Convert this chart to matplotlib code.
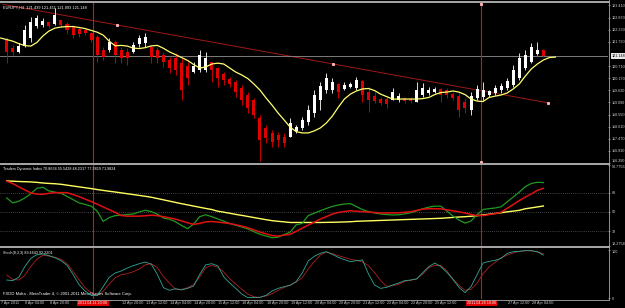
import matplotlib
matplotlib.use("Agg")
import matplotlib.pyplot as plt
from matplotlib.lines import Line2D
import numpy as np

plt.rcParams['font.family'] = ['Liberation Sans', 'DejaVu Sans']

# EURJPY H4 candles, bars 0..89 (7 Apr 2011 12:00 -> 28 Apr 2011 08:00)
OPEN = [121.87, 121.51, 121.33, 121.60, 121.96, 122.49, 122.54, 122.67, 122.58, 122.76,
        122.58, 122.45, 122.36, 122.31, 122.18, 122.00, 121.42, 121.42, 121.78, 121.42,
        121.33, 121.33, 121.69, 121.73, 121.56, 121.42, 121.20, 120.98, 121.07, 120.84,
        120.71, 120.44, 120.53, 120.53, 120.89, 120.62, 120.35, 120.13, 120.00, 119.73,
        119.42, 119.20, 118.39, 117.95, 117.73, 117.64, 117.55, 117.55, 117.82, 117.95,
        118.22, 118.62, 119.20, 119.64, 119.64, 119.91, 119.69, 119.78, 119.73, 120.04,
        119.55, 119.37, 119.24, 119.24, 119.20, 119.20, 119.29, 119.24, 119.11, 119.42,
        119.51, 119.55, 119.69, 119.64, 119.46, 119.37, 119.11, 118.75, 119.29, 119.33,
        119.42, 119.51, 119.64, 119.73, 119.86, 120.18, 120.62, 120.89, 121.24, 121.439]
HIGH = [122.00, 121.65, 121.73, 122.54, 122.89, 122.98, 122.85, 122.67, 123.29, 122.76,
        122.67, 122.54, 122.45, 122.40, 122.22, 122.09, 121.56, 121.96, 121.87, 121.56,
        121.51, 121.78, 122.09, 122.18, 121.65, 121.56, 121.33, 121.11, 121.29, 121.07,
        120.89, 120.89, 121.42, 121.33, 120.89, 120.67, 120.44, 120.22, 120.09, 119.86,
        119.55, 119.29, 118.53, 118.08, 117.86, 117.77, 117.73, 118.39, 118.08, 118.44,
        118.97, 119.64, 120.00, 120.40, 120.18, 119.95, 120.00, 120.00, 120.22, 120.09,
        119.78, 119.55, 119.33, 119.33, 119.73, 119.51, 119.33, 119.33, 120.00, 119.95,
        119.78, 119.78, 119.73, 119.73, 119.55, 119.51, 119.29, 119.55, 119.86, 120.00,
        119.64, 119.86, 119.95, 120.18, 120.75, 121.29, 121.42, 121.73, 121.78, 121.451]
LOW = [120.84, 121.20, 121.29, 121.56, 121.78, 122.40, 122.45, 122.40, 122.54, 122.45,
       122.18, 121.96, 122.00, 122.09, 121.78, 120.89, 120.98, 121.33, 120.84, 120.84,
       120.75, 121.29, 121.56, 121.56, 120.84, 120.84, 120.67, 120.40, 120.31, 119.20,
       119.86, 120.40, 120.44, 120.44, 120.00, 119.78, 119.86, 119.78, 119.33, 118.97,
       118.62, 118.39, 116.48, 117.28, 117.10, 117.10, 117.10, 117.55, 117.73, 117.86,
       118.08, 118.44, 118.75, 119.51, 119.51, 119.29, 119.64, 119.73, 119.64, 119.11,
       118.66, 119.06, 118.97, 118.84, 119.20, 119.11, 119.06, 119.06, 119.11, 119.33,
       119.42, 119.51, 119.11, 119.29, 119.20, 118.44, 118.62, 118.53, 119.20, 119.20,
       119.33, 119.42, 119.51, 119.64, 119.78, 120.09, 120.53, 120.84, 121.20, 121.093]
CLOSE = [121.33, 121.33, 121.60, 122.31, 122.67, 122.85, 122.71, 122.49, 122.98, 122.54,
         122.31, 122.09, 122.14, 122.18, 121.87, 121.20, 121.11, 121.78, 121.20, 121.07,
         121.07, 121.65, 121.96, 122.00, 121.11, 121.07, 120.89, 120.62, 120.53, 119.64,
         120.18, 120.71, 121.20, 121.07, 120.53, 120.18, 120.09, 119.91, 119.55, 119.20,
         118.84, 118.53, 117.41, 117.50, 117.33, 117.41, 117.28, 118.17, 117.99, 118.31,
         118.75, 119.42, 119.82, 120.18, 120.00, 119.55, 119.86, 119.91, 120.09, 119.42,
         119.20, 119.15, 119.06, 119.02, 119.55, 119.37, 119.15, 119.15, 119.64, 119.73,
         119.64, 119.69, 119.42, 119.42, 119.29, 118.75, 118.84, 119.37, 119.69, 119.64,
         119.60, 119.73, 119.82, 120.04, 120.53, 121.07, 121.20, 121.56, 121.439, 121.148]

# yellow moving average (shifted forward), bars -1..91
MA = [121.96, 121.89, 121.82, 121.71, 121.62, 121.60, 121.76, 122.05, 122.27, 122.40, 122.45,
      122.47, 122.47, 122.43, 122.38, 122.30, 122.22, 122.09, 121.82, 121.61, 121.63,
      121.60, 121.51, 121.49, 121.53, 121.61, 121.63, 121.50, 121.34, 121.22, 121.09,
      120.96, 120.78, 120.62, 120.67, 120.80, 120.84, 120.80, 120.62, 120.44, 120.31,
      120.15, 119.91, 119.64, 119.29, 118.97, 118.62, 118.31, 117.99, 117.79, 117.73,
      117.73, 117.82, 117.95, 118.17, 118.48, 118.88, 119.24, 119.46, 119.60, 119.69,
      119.71, 119.62, 119.46, 119.35, 119.24, 119.24, 119.24, 119.24, 119.24, 119.26,
      119.31, 119.44, 119.53, 119.55, 119.60, 119.55, 119.44, 119.24, 119.15, 119.13,
      119.31, 119.37, 119.42, 119.51, 119.69, 119.91, 120.26, 120.58, 120.80, 120.98,
      121.09, 121.11]

# trend line anchors (bar, price)
TREND_X = [-0.6, 18.3, 54.1, 89.8]
TREND_Y = [123.46, 122.54, 120.80, 119.07]
BID = 121.148
PRICE_TICKS = [116.39, 116.93, 117.47, 118.01, 118.55, 119.09, 119.63, 120.17,
               120.71, 121.79, 122.33, 122.87, 123.41]

# Traders Dynamic Index
TDI_GREEN = [63.0, 58.5, 60.0, 63.0, 67.0, 72.0, 73.0, 69.6, 68.5, 67.5,
             64.5, 61.5, 58.5, 57.0, 55.5, 50.9, 41.2, 44.8, 46.6, 47.1,
             47.6, 48.1, 50.1, 51.6, 50.3, 47.9, 44.3, 43.3, 40.8, 37.4,
             34.4, 38.7, 45.6, 47.4, 45.6, 43.5, 41.4, 39.2, 37.6, 36.0,
             34.2, 31.6, 29.2, 27.6, 26.0, 26.4, 28.9, 31.2, 37.9, 39.3,
             46.6, 48.9, 51.1, 53.2, 55.2, 56.5, 57.4, 57.8, 55.0, 52.2,
             50.4, 49.1, 48.1, 47.6, 47.2, 47.4, 48.2, 49.3, 51.0, 53.0,
             54.5, 55.4, 55.4, 50.8, 46.2, 42.5, 39.6, 41.6, 47.5, 52.3,
             53.1, 53.7, 54.9, 59.4, 63.9, 68.5, 73.6, 76.5, 77.7, 77.38]
TDI_RED = [78.6, 76.5, 73.5, 70.6, 67.8, 66.6, 66.5, 67.4, 68.0, 68.0,
           68.0, 66.2, 64.3, 62.0, 59.7, 57.3, 54.7, 52.2, 49.5, 46.7,
           46.1, 46.1, 46.1, 46.5, 47.0, 46.5, 45.6, 44.5, 43.3, 41.7,
           39.9, 38.4, 39.4, 40.7, 41.1, 40.6, 39.9, 39.2, 38.0, 36.8,
           35.3, 33.2, 31.2, 29.6, 28.0, 27.5, 28.4, 29.2, 31.9, 34.9,
           37.7, 40.5, 43.3, 45.6, 48.0, 49.5, 50.4, 51.1, 50.7, 50.3,
           49.9, 49.5, 49.1, 49.1, 49.1, 49.2, 49.7, 50.2, 51.5, 52.6,
           53.0, 53.0, 52.9, 52.0, 51.1, 50.2, 49.0, 47.7, 46.7, 46.6,
           47.5, 48.4, 49.8, 53.4, 56.9, 60.6, 63.9, 66.8, 70.2, 71.98]
TDI_YELLOW = [78.9, 78.7, 78.4, 78.2, 78.0, 77.6, 77.0, 76.6, 76.3, 75.8,
              75.0, 74.2, 73.4, 72.6, 71.8, 70.9, 70.1, 69.3, 68.6, 67.8,
              67.0, 66.2, 65.4, 64.6, 63.7, 62.5, 61.3, 60.1, 58.9, 57.7,
              56.6, 55.5, 54.4, 53.3, 52.3, 50.7, 49.8, 48.8, 47.7, 46.8,
              45.8, 44.8, 43.8, 42.8, 41.9, 41.3, 40.8, 40.2, 40.2, 40.2,
              40.2, 40.2, 40.2, 40.3, 40.4, 40.5, 40.7, 40.9, 41.3, 41.5,
              41.7, 41.9, 42.1, 42.3, 42.5, 42.7, 42.9, 43.1, 43.3, 43.5,
              43.7, 43.9, 44.1, 44.5, 44.9, 45.3, 45.6, 46.0, 46.5, 47.2,
              47.9, 48.6, 49.3, 50.1, 50.8, 51.5, 53.0, 53.8, 54.7, 55.54]
TDI_LEVELS = [68, 50, 32]

# Stochastic (8,3,3)
STOCH_MAIN = [37.5, 36.1, 43.1, 65.3, 82.6, 90.3, 91.7, 88.2, 84.0, 77.8,
              68.1, 49.3, 27.8, 14.6, 5.6, 4.9, 23.6, 43.1, 52.1, 56.3,
              62.5, 67.4, 71.5, 75.0, 70.1, 48.6, 21.5, 16.0, 19.4, 16.7,
              20.1, 25.0, 49.0, 69.0, 71.5, 67.0, 44.0, 31.0, 20.0, 8.0,
              0.7, 1.0, 1.4, 5.6, 14.6, 20.1, 23.6, 26.4, 34.0, 52.0,
              77.1, 86.8, 93.1, 96.5, 91.0, 84.7, 79.9, 75.7, 77.8, 79.2,
              50.0, 27.1, 20.1, 22.2, 27.1, 31.3, 36.1, 37.5, 39.6, 52.8,
              65.3, 72.9, 65.3, 53.5, 38.9, 22.2, 11.1, 23.6, 48.6, 72.9,
              76.4, 78.5, 82.6, 93.1, 96.5, 97.2, 98.6, 98.6, 96.5, 89.46]
STOCH_SIGNAL = [47.9, 38.9, 37.5, 47.2, 66.0, 80.6, 88.9, 87.5, 84.7, 80.6,
                71.5, 55.6, 38.2, 21.5, 10.4, 4.9, 13.9, 29.2, 42.4, 48.6,
                50.7, 54.9, 60.4, 69.4, 71.5, 63.2, 44.4, 30.6, 18.1, 18.1,
                21.5, 28.0, 44.0, 63.0, 68.0, 64.0, 54.0, 40.0, 29.0, 18.0,
                8.0, 2.5, 1.5, 4.0, 9.0, 16.0, 22.0, 27.0, 33.3, 42.0,
                60.4, 75.7, 89.6, 95.8, 92.4, 88.2, 84.7, 80.6, 78.5, 75.0,
                67.4, 52.8, 36.8, 24.3, 25.7, 28.5, 34.7, 36.8, 40.3, 50.0,
                63.2, 68.1, 67.4, 56.3, 39.6, 26.4, 16.0, 18.1, 30.6, 50.7,
                64.6, 74.3, 84.0, 89.6, 93.8, 97.2, 98.6, 98.3, 95.8, 92.22]

# time axis labels, one every 4 bars (None = hidden behind a crosshair label)
TIME_LABELS = ["7 Apr 2011", "8 Apr 04:00", "8 Apr 20:00", None, None,
               "12 Apr 20:00", "13 Apr 12:00", "14 Apr 04:00", "14 Apr 20:00", "15 Apr 12:00",
               "18 Apr 04:00", "18 Apr 20:00", "19 Apr 12:00", "20 Apr 04:00", "20 Apr 20:00",
               "21 Apr 12:00", "22 Apr 04:00", "22 Apr 20:00", "25 Apr 12:00", None,
               None, "27 Apr 12:00", "28 Apr 04:00"]
VLINES = [(14.3, "2011.04.11 20:00"), (78.7, "2011.04.26 16:00")]

W, H = 625, 308
BG = 'black'
LBL = '#d0d0d0'
VRED = '#b82020'


def rect(x0, y0, x1, y1):
    return [x0 / W, 1 - y1 / H, (x1 - x0) / W, (y1 - y0) / H]


fig = plt.figure(figsize=(W / 100, H / 100), dpi=100, facecolor=BG)
ax_main = fig.add_axes(rect(0, 3, 608, 163))
ax_tdi = fig.add_axes(rect(0, 165, 608, 246))
ax_sto = fig.add_axes(rect(0, 248, 608, 299))

XLIM = (-6.7 / 6.03, (608 - 6.7) / 6.03)
for ax in (ax_main, ax_tdi, ax_sto):
    ax.set_facecolor(BG)
    ax.set_xlim(*XLIM)
    for s in ax.spines.values():
        s.set_visible(False)
    ax.set_xticks([])
    ax.yaxis.tick_right()
    ax.tick_params(axis='y', colors=LBL, labelsize=2.7, length=1.5, width=0.4, pad=1)
    for vx, _ in VLINES:
        ax.axvline(vx, color=VRED, lw=0.8, zorder=2.5)

# ---- main price panel
ax_main.set_ylim(116.39, 123.52)
bars = np.arange(len(OPEN))
o = np.array(OPEN); c = np.array(CLOSE)
up = c >= o
col = np.where(up, '#ffffff', '#e00000')
ax_main.vlines(bars, LOW, HIGH, colors=col, lw=0.6, zorder=3)
ax_main.bar(bars, np.maximum(np.abs(c - o), 0.02), bottom=np.minimum(o, c),
            width=0.5, color=col, zorder=4)
ax_main.plot(np.arange(len(MA)) - 1, MA, color='#ffff70', lw=0.9, zorder=5)
ax_main.plot([TREND_X[0], TREND_X[-1]], [TREND_Y[0], TREND_Y[-1]], color='#a01818', lw=0.7, zorder=2)
ax_main.plot(TREND_X[1:], TREND_Y[1:], 's', color='#ffb0b0', ms=1.2, zorder=6)
for vx, _ in VLINES[1:]:
    ax_main.plot([vx, vx], [123.47, 116.44], 's', color='#ffb0b0', ms=1.2, zorder=6)
ax_main.axhline(BID, color='#909090', lw=0.6, zorder=2)
ax_main.set_yticks(PRICE_TICKS)
ax_main.set_yticklabels([f"{v:.3f}" for v in PRICE_TICKS])
ax_main.get_yticklabels()[0].set_va('bottom')
ax_main.text(1.006, BID, f"{BID:.3f}", transform=ax_main.get_yaxis_transform(),
             fontsize=2.7, color='black', va='center', ha='left',
             bbox=dict(boxstyle='square,pad=0.25', fc='#e8e8e8', ec='none'))
ax_main.text(0.005, 0.985, "EURJPY,H4  121.439 121.451 121.093 121.148", transform=ax_main.transAxes,
             fontsize=2.8, color='white', va='top', ha='left')

# ---- TDI panel
ax_tdi.set_ylim(18.2758, 93.7756)
for lv in TDI_LEVELS:
    ax_tdi.axhline(lv, color='#808080', lw=0.5, ls=(0, (1, 2)), zorder=1)
tb = np.arange(len(TDI_GREEN))
ax_tdi.plot(tb, TDI_YELLOW, color='#ffff60', lw=1.0, zorder=3)
ax_tdi.plot(tb, TDI_GREEN, color='#1f9a1f', lw=0.9, zorder=4)
ax_tdi.plot(tb, TDI_RED, color='#e01010', lw=1.1, zorder=5)
ax_tdi.set_yticks([93.7756] + TDI_LEVELS + [18.2758])
ax_tdi.set_yticklabels(["93.7756", "68", "50", "32", "18.2758"])
tdi_lbls = ax_tdi.get_yticklabels()
tdi_lbls[0].set_va('top')
tdi_lbls[-1].set_va('bottom')
ax_tdi.text(0.005, 0.975, "Traders Dynamic Index 70.8634 55.5428 48.2317 77.3819 71.9824",
            transform=ax_tdi.transAxes, fontsize=2.7, color='white', va='top', ha='left')

# ---- Stochastic panel
ax_sto.set_ylim(-2.08, 104.17)
sb = np.arange(len(STOCH_MAIN))
ax_sto.plot(sb, STOCH_SIGNAL, color='#b02020', lw=0.6, zorder=3)
ax_sto.plot(sb, STOCH_MAIN, color='#30a898', lw=0.6, zorder=4)
ax_sto.set_yticks([100, 0])
ax_sto.set_yticklabels(["100", "0"])
ax_sto.get_yticklabels()[0].set_va('top')
ax_sto.text(0.005, 0.95, "Stoch(8,3,3) 89.4643 92.2201", transform=ax_sto.transAxes,
            fontsize=2.7, color='white', va='top', ha='left')
ax_sto.text(0.005, 0.05, "FXDD Malta - MetaTrader 4, \u00a9 2001-2011 MetaQuotes Software Corp.",
            transform=ax_sto.transAxes, fontsize=3.0, color='white', va='bottom', ha='left')

# time axis
tx = ax_sto.get_xaxis_transform()
for i, lab in enumerate(TIME_LABELS):
    if lab is None:
        continue
    ax_sto.text(i * 4 - 0.9, -0.08, lab, transform=tx, fontsize=2.7, color=LBL,
                va='center', ha='left', clip_on=False)
for vx, lab in VLINES:
    ax_sto.text(vx, -0.08, lab, transform=tx, fontsize=2.7, color='white', va='center',
                ha='center', zorder=10, clip_on=False,
                bbox=dict(boxstyle='square,pad=0.3', fc='#e00000', ec='none'))

# panel frames
for yy in (1.5, 164.2, 247.2):
    fig.add_artist(Line2D([0, 609 / W], [1 - yy / H] * 2, color='#a8a8a8', lw=1.4))
fig.add_artist(Line2D([0, 609 / W], [1 - 299.5 / H] * 2, color='#a8a8a8', lw=0.6))
fig.add_artist(Line2D([609 / W] * 2, [1 - 0 / H, 1 - 300 / H], color='#a8a8a8', lw=0.6))

fig.savefig("out.png", dpi=100, facecolor=BG)
